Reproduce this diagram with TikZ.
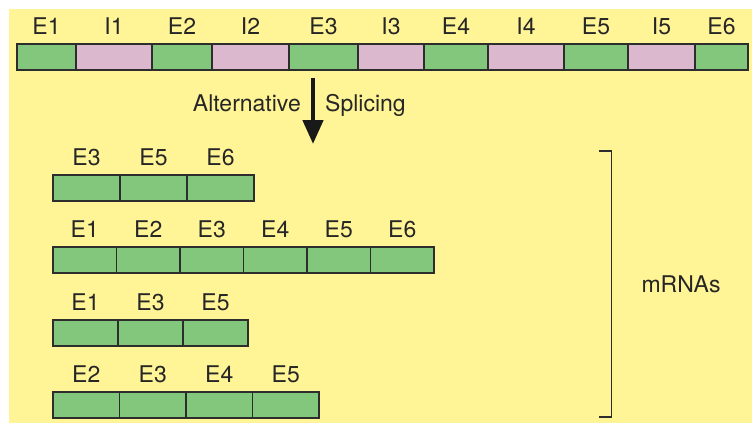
\documentclass[tikz,border=0pt]{standalone}
\usepackage{fontspec}
\setmainfont{TeX Gyre Heros}
\usepackage{xcolor}
\usepackage{tikz}
\usetikzlibrary{positioning, arrows.meta}

\definecolor{bgyellow}{RGB}{255,244,150}
\definecolor{exongreen}{RGB}{130,199,124}
\definecolor{intronpink}{RGB}{220,184,206}
\definecolor{edgegray}{RGB}{45,45,45}

\begin{document}
\begin{tikzpicture}[
  x=1pt, y=1pt,
  node distance=0pt,
  label distance=9pt,
  seg/.style={rectangle, draw=edgegray, line width=1.2pt, inner sep=0pt, outer sep=0pt,
              minimum height=26pt},
  exon/.style={seg, fill=exongreen, minimum width=#1},
  intron/.style={seg, fill=intronpink, minimum width=#1},
  lbl/.style={font=\fontsize{23}{27}\selectfont, text=black!85, text depth=0pt, inner sep=0pt},
  arrow/.style={-{Triangle[width=20pt,length=24pt]}, line width=4.5pt, black!90},
  bracket/.style={draw=edgegray, line width=1.3pt}
]

\useasboundingbox (0,0) rectangle (752,-423);
\fill[bgyellow] (9,-9) rectangle (752,-423);

% pre-mRNA
\node[exon=59pt, anchor=west, label={[lbl]above:E1}] (e1) at (17,-57) {};
\node[intron=76pt, right=of e1, label={[lbl]above:I1}] (i1) {};
\node[exon=60pt, right=of i1, label={[lbl]above:E2}] (e2) {};
\node[intron=77pt, right=of e2, label={[lbl]above:I2}] (i2) {};
\node[exon=69pt, right=of i2, label={[lbl]above:E3}] (e3) {};
\node[intron=66pt, right=of e3, label={[lbl]above:I3}] (i3) {};
\node[exon=64pt, right=of i3, label={[lbl]above:E4}] (e4) {};
\node[intron=76pt, right=of e4, label={[lbl]above:I4}] (i4) {};
\node[exon=64pt, right=of i4, label={[lbl]above:E5}] (e5) {};
\node[intron=67pt, right=of e5, label={[lbl]above:I5}] (i5) {};
\node[exon=53pt, right=of i5, label={[lbl]above:E6}] (e6) {};

% splicing arrow
\coordinate (spTop) at (313,-78);
\coordinate (spBot) at (313,-144);
\coordinate (spMid) at (313,-103);
\draw[arrow] (spTop) -- (spBot);
\node[lbl, left=12pt of spMid] (alt) {Alternative};
\node[lbl, right=12pt of spMid] (spl) {Splicing};

% mRNA 1
\node[exon=67pt, anchor=west, label={[lbl]above:E3}] (ra1) at (53,-188) {};
\node[exon=67pt, right=of ra1, label={[lbl]above:E5}] (ra2) {};
\node[exon=67pt, right=of ra2, label={[lbl]above:E6}] (ra3) {};

% mRNA 2
\node[exon=63.5pt, anchor=west, label={[lbl]above:E1}] (rb1) at (53,-260) {};
\node[exon=63.5pt, right=of rb1, label={[lbl]above:E2}] (rb2) {};
\node[exon=63.5pt, right=of rb2, label={[lbl]above:E3}] (rb3) {};
\node[exon=63.5pt, right=of rb3, label={[lbl]above:E4}] (rb4) {};
\node[exon=63.5pt, right=of rb4, label={[lbl]above:E5}] (rb5) {};
\node[exon=63.5pt, right=of rb5, label={[lbl]above:E6}] (rb6) {};

% mRNA 3
\node[exon=65pt, anchor=west, label={[lbl]above:E1}] (rc1) at (53,-333) {};
\node[exon=65pt, right=of rc1, label={[lbl]above:E3}] (rc2) {};
\node[exon=65pt, right=of rc2, label={[lbl]above:E5}] (rc3) {};

% mRNA 4
\node[exon=66.5pt, anchor=west, label={[lbl]above:E2}] (rd1) at (53,-405) {};
\node[exon=66.5pt, right=of rd1, label={[lbl]above:E3}] (rd2) {};
\node[exon=66.5pt, right=of rd2, label={[lbl]above:E4}] (rd3) {};
\node[exon=66.5pt, right=of rd3, label={[lbl]above:E5}] (rd4) {};

% bracket
\coordinate (brTop) at (599,-151);
\coordinate (brBot) at (599,-417);
\draw[bracket] (brTop) -- ++(12.7,0) |- (brBot);
\node[lbl] (mrna) at (681,-284) {mRNAs};

\end{tikzpicture}
\end{document}
